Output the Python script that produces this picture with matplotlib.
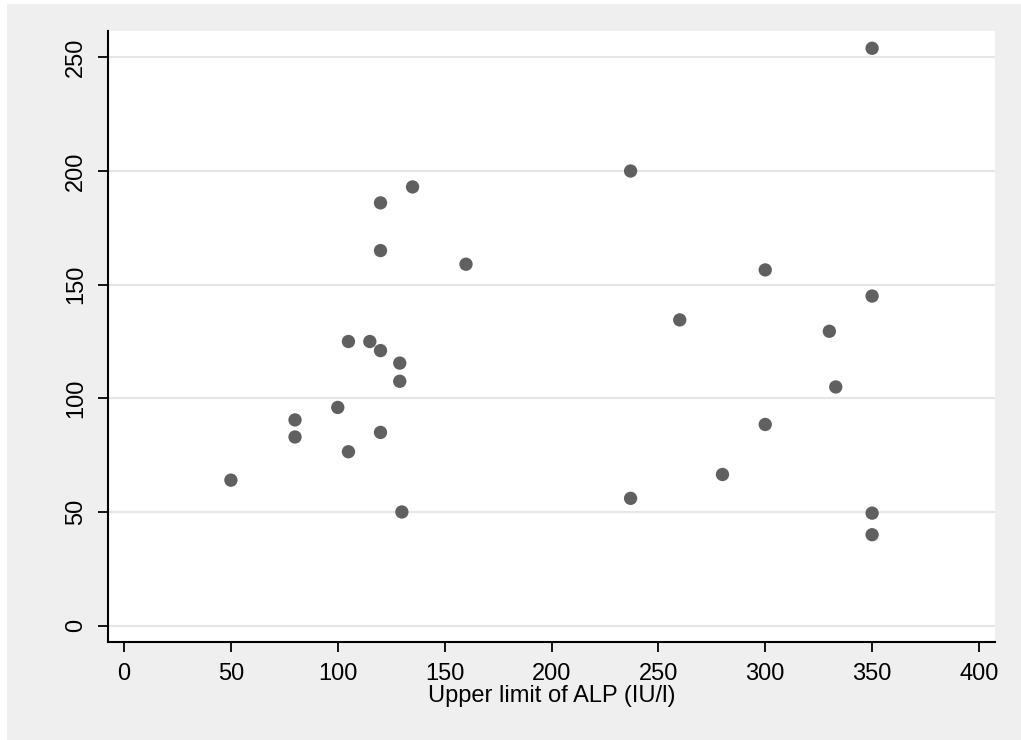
import matplotlib
matplotlib.use("Agg")
from matplotlib import pyplot as plt
from matplotlib.patches import Rectangle

# upper limit of ALP (IU/l) and the y value
alp_upper = [350, 237, 135, 120, 120, 160, 300, 350, 260, 330,
             105, 115, 120, 129, 129, 333, 100, 80, 80, 120,
             300, 105, 50, 280, 237, 130, 350, 350]
y_vals = [254, 200, 193, 186, 165, 159, 156.5, 145, 134.5, 129.5,
          125, 125, 121, 115.5, 107.5, 105, 96, 90.5, 83, 85,
          88.5, 76.5, 64, 66.5, 56, 50, 49.5, 40]

x_ticks = [0, 50, 100, 150, 200, 250, 300, 350, 400]
y_ticks = [0, 50, 100, 150, 200, 250]

plt.rcParams['font.family'] = ['Liberation Sans', 'DejaVu Sans']

fig = plt.figure(figsize=(10.21, 7.40), dpi=100, facecolor='white')
W, H = 1021, 740
# stata style grey graph region
fig.patches.append(Rectangle((7 / W, 0), 1, 1 - 4 / H, transform=fig.transFigure,
                             facecolor='#efefef', edgecolor='none', zorder=-1))

ax = fig.add_axes([108 / W, 1 - 642 / H, (995 - 108) / W, (642 - 31) / H])
ax.set_facecolor('white')

ax.scatter(alp_upper, y_vals, s=92, color='#606060', edgecolors='none', zorder=3)

ax.set_xlim(-7.5, 407.5)
ax.set_ylim(-7.2, 261.6)
ax.set_xticks(x_ticks)
ax.set_yticks(y_ticks)
ax.yaxis.grid(True, color='#e6e6e6', linewidth=1.5)
ax.set_axisbelow(True)

for s in ['top', 'right']:
    ax.spines[s].set_visible(False)
for s in ['left', 'bottom']:
    ax.spines[s].set_linewidth(1.5)
    ax.spines[s].set_color('black')

ax.tick_params(axis='both', direction='out', length=7, width=1.3, labelsize=17)
ax.tick_params(axis='x', pad=8)
ax.tick_params(axis='y', pad=8)
for lbl in ax.get_yticklabels():
    lbl.set_rotation(90)
    lbl.set_va('center')

ax.set_xlabel('Upper limit of ALP (IU/l)', fontsize=17, labelpad=0)

fig.savefig('out.png', dpi=100, facecolor=fig.get_facecolor())
